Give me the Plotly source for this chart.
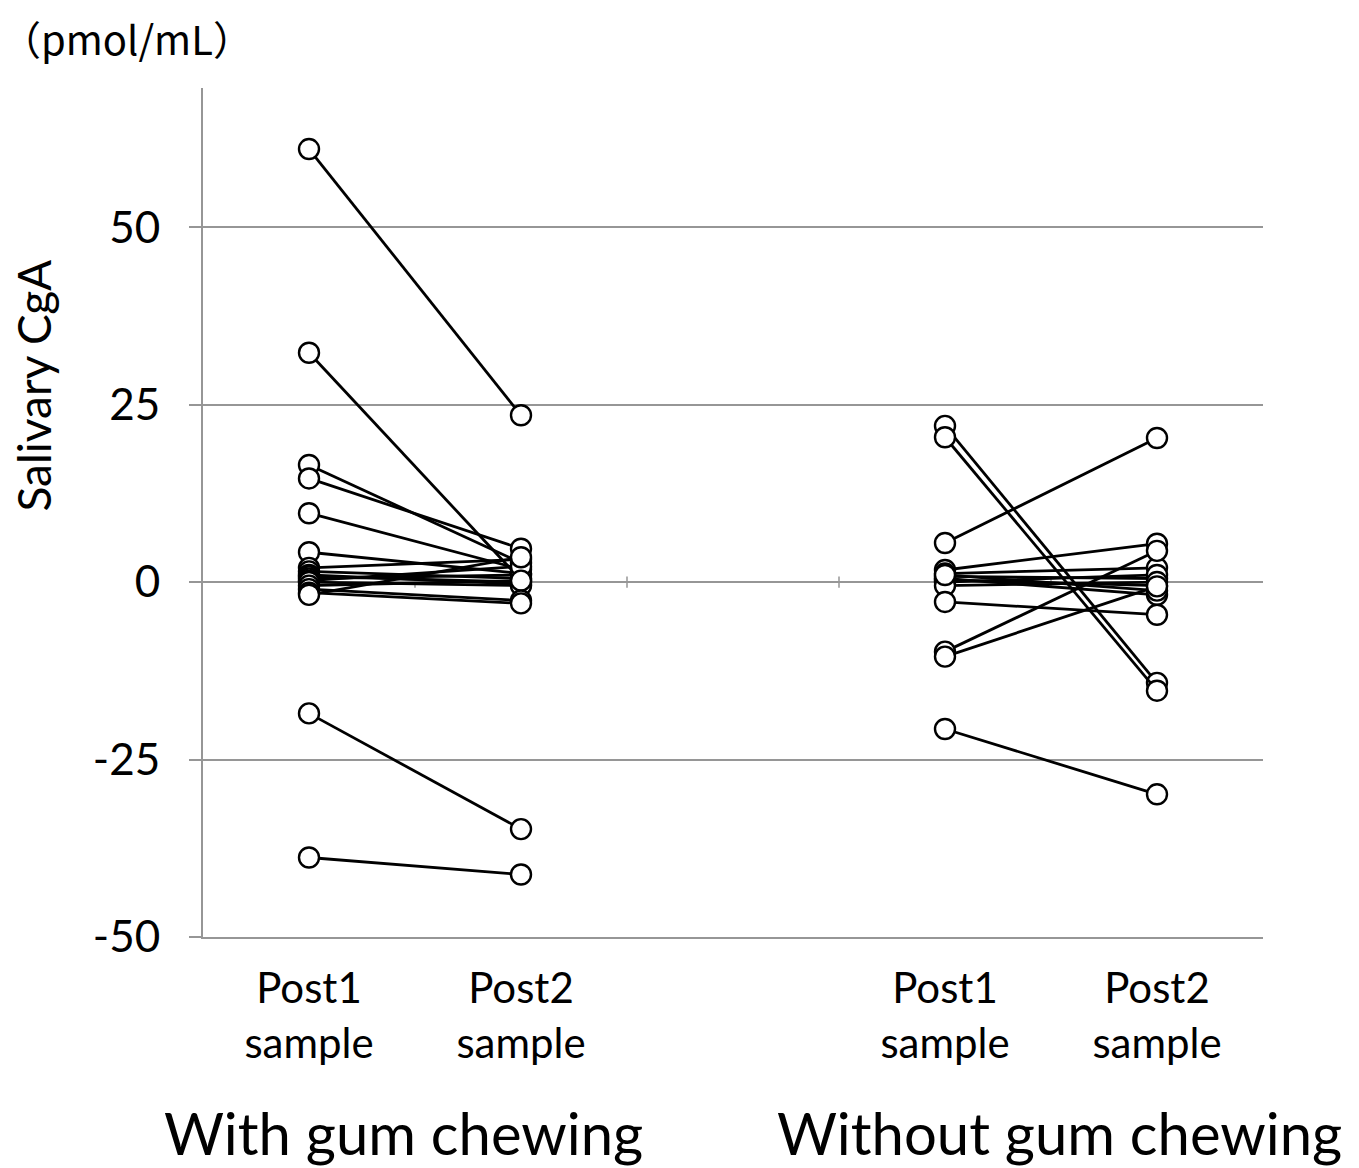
import plotly.graph_objects as go

# ---- data ----
categories = ["Post1<br>sample", "Post2<br>sample", "", "Post1<br>sample", "Post2<br>sample"]
group_labels = ["With gum chewing", "Without gum chewing"]

gum_post1 = [61.0, 32.3, 16.5, 14.6, 9.7, 4.2, 2.0, 1.5, 1.0, 0.8, 0.5, 0.2, 0.0, -0.5, -1.0, -1.5, -1.8, -18.5, -38.8]
gum_post2 = [23.5, 0.3, 2.7, 4.7, 1.8, 1.2, 3.2, 0.5, -0.3, 0.0, 1.0, 2.2, -0.5, 0.2, -2.6, -3.0, 3.5, -34.8, -41.2]

nogum_post1 = [22.0, 20.4, 5.5, 1.7, 1.2, 0.8, 0.5, 0.3, 0.0, -0.5, 1.0, -2.8, -9.8, -10.5, -20.7]
nogum_post2 = [-14.2, -15.3, 20.3, 5.4, 2.0, 0.5, -1.8, -0.5, 1.0, 0.0, -1.2, -4.6, 4.4, -0.6, -29.9]

y_ticks = [-50, -25, 0, 25, 50]
y_range = [-50, 69.6]

FONT = "Lato"
GRID = "#969696"

fig = go.Figure()

marker = dict(size=20, color="white", line=dict(color="black", width=2.4))
line = dict(color="black", width=2.8)

for a, b in zip(gum_post1, gum_post2):
    fig.add_trace(go.Scatter(x=[0, 1], y=[a, b], mode="lines+markers",
                             line=line, marker=marker, showlegend=False,
                             hoverinfo="y"))
for a, b in zip(nogum_post1, nogum_post2):
    fig.add_trace(go.Scatter(x=[3, 4], y=[a, b], mode="lines+markers",
                             line=line, marker=marker, showlegend=False,
                             hoverinfo="y"))

# small category-boundary ticks on the zero line
shapes = []
for xb in [0.5, 1.5, 2.5, 3.5]:
    shapes.append(dict(type="line", xref="x", yref="y", x0=xb, x1=xb, y0=-0.8, y1=0.8,
                       line=dict(color=GRID, width=1.5), layer="below"))

fig.update_layout(
    width=1359, height=1168,
    margin=dict(l=203, r=96, t=88, b=231),
    paper_bgcolor="white", plot_bgcolor="white",
    font=dict(family=FONT, size=42, color="black"),
    shapes=shapes,
    xaxis=dict(
        range=[-0.5, 4.5],
        tickmode="array",
        tickvals=[0, 1, 2, 3, 4],
        ticktext=categories,
        showgrid=False, zeroline=False,
        showline=True, linecolor=GRID, linewidth=2,
        ticks="", ticklabelstandoff=14,
        tickfont=dict(family=FONT, size=42, color="black"),
    ),
    yaxis=dict(
        range=y_range,
        tickmode="array",
        tickvals=y_ticks,
        ticktext=[str(v) for v in y_ticks],
        showgrid=True, gridcolor=GRID, gridwidth=2,
        zeroline=True, zerolinecolor=GRID, zerolinewidth=2,
        showline=True, linecolor=GRID, linewidth=2,
        ticks="outside", ticklen=12, tickcolor=GRID, tickwidth=2,
        ticklabelstandoff=20,
        tickfont=dict(family=FONT, size=44, color="black"),
    ),
    annotations=[
        dict(text="Salivary CgA", xref="paper", yref="paper", x=-0.160, y=0.650,
             textangle=-90, showarrow=False, xanchor="center", yanchor="middle",
             font=dict(family=FONT, size=46, color="black")),
        dict(text="（pmol/mL）", xref="paper", yref="paper", x=-0.192, y=1.059,
             showarrow=False, xanchor="left", yanchor="middle",
             font=dict(family="Noto Sans CJK JP", size=40, color="black")),
        dict(text=group_labels[0], xref="x", yref="paper", x=0.448, y=-0.230,
             showarrow=False, xanchor="center", yanchor="middle",
             font=dict(family=FONT, size=58, color="black")),
        dict(text=group_labels[1], xref="x", yref="paper", x=3.54, y=-0.230,
             showarrow=False, xanchor="center", yanchor="middle",
             font=dict(family=FONT, size=58, color="black")),
    ],
)

fig.write_html("out.html")
